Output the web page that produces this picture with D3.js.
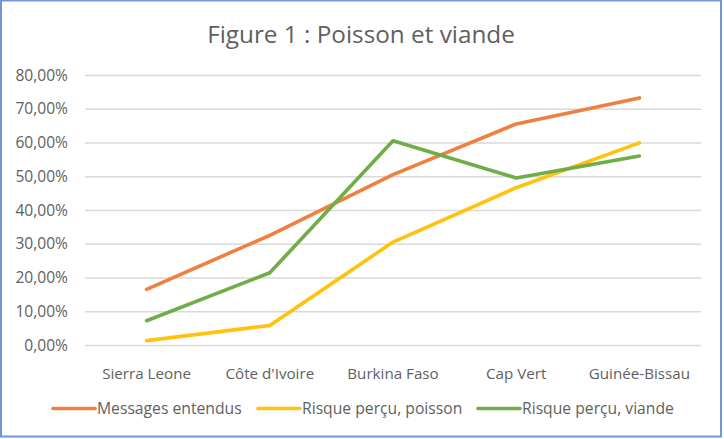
<!DOCTYPE html>
<html>
<head>
<meta charset="utf-8">
<script src="https://cdn.jsdelivr.net/npm/d3@7"></script>
<style>
  html, body { margin: 0; padding: 0; background: #fff; }
  svg text { font-family: "Open Sans", sans-serif; fill: #5f5f5f; }
</style>
</head>
<body>
<svg id="chart" width="724" height="439"></svg>
<script>
const categories = ["Sierra Leone", "Côte d'Ivoire", "Burkina Faso", "Cap Vert", "Guinée-Bissau"];
const seriesNames = ["Messages entendus", "Risque perçu, poisson", "Risque perçu, viande"];
const messagesEntendus = [0.165, 0.325, 0.505, 0.655, 0.732];
const risquePoisson = [0.013, 0.058, 0.305, 0.466, 0.599];
const risqueViande = [0.072, 0.214, 0.605, 0.495, 0.560];
const yTicks = [0, 0.1, 0.2, 0.3, 0.4, 0.5, 0.6, 0.7, 0.8];
const title = "Figure 1 : Poisson et viande";

const colors = ["#EE8040", "#FFC20E", "#70AD47"];
const seriesValues = [messagesEntendus, risquePoisson, risqueViande];

const svg = d3.select("#chart");
const W = 724, H = 439;
const m = { left: 85, right: 23, top: 75, bottom: 94 };

svg.append("rect").attr("x", 1).attr("y", 0.5).attr("width", 720).attr("height", 436)
  .attr("fill", "#fff").attr("stroke", "#7296d8").attr("stroke-width", 2);

svg.append("text").attr("x", 361).attr("y", 42.5).attr("text-anchor", "middle")
  .style("font-size", "24.3px").text(title);

const x = d3.scaleBand().domain(categories).range([m.left, W - m.right]).padding(0);
const y = d3.scaleLinear().domain([0, 0.8]).range([H - m.bottom, m.top]);

const locale = d3.formatLocale({ decimal: ",", thousands: " ", grouping: [3], currency: ["", "€"] });
const fmt = locale.format(".2%");

// gridlines
const grid = svg.append("g")
  .attr("transform", `translate(${m.left},0)`)
  .call(d3.axisLeft(y).tickValues(yTicks).tickSize(-(W - m.left - m.right)).tickFormat(fmt).tickPadding(17));
grid.select(".domain").remove();
grid.selectAll(".tick line").attr("stroke", "#d9d9d9").attr("stroke-width", 1.3);
grid.selectAll(".tick text").style("font-size", "15.6px").attr("fill", "#5f5f5f")
  .style("font-family", "'Open Sans', sans-serif");

const xa = svg.append("g")
  .attr("transform", `translate(0,${H - m.bottom})`)
  .call(d3.axisBottom(x).tickSize(0).tickPadding(23));
xa.select(".domain").remove();
xa.selectAll(".tick text").style("font-size", "15.2px").attr("fill", "#5f5f5f")
  .style("font-family", "'Open Sans', sans-serif");

const line = d3.line().x((d, i) => x(categories[i]) + x.bandwidth() / 2).y(d => y(d));

seriesValues.forEach((vals, k) => {
  svg.append("path").datum(vals).attr("d", line)
    .attr("fill", "none").attr("stroke", colors[k]).attr("stroke-width", 3.6)
    .attr("stroke-linecap", "round").attr("stroke-linejoin", "round");
});

// legend
const legendX = [53, 258, 478];
const lg = svg.append("g");
seriesNames.forEach((name, k) => {
  lg.append("line").attr("x1", legendX[k]).attr("x2", legendX[k] + 42)
    .attr("y1", 408.5).attr("y2", 408.5).attr("stroke", colors[k]).attr("stroke-width", 3.6)
    .attr("stroke-linecap", "round");
  lg.append("text").attr("x", legendX[k] + 44).attr("y", 414)
    .style("font-size", "15.7px").text(name);
});
</script>
</body>
</html>
